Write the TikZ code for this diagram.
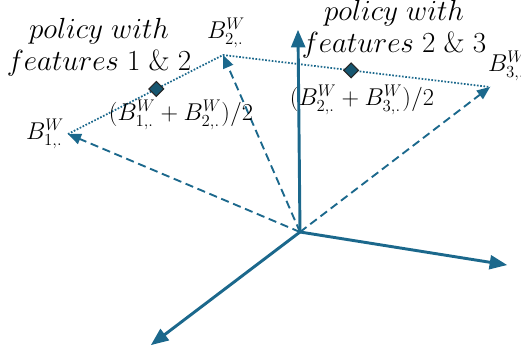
\documentclass[tikz,border=0pt]{standalone}
\usepackage{amsmath}
\usetikzlibrary{arrows,shapes.geometric,calc}
\definecolor{axisblue}{RGB}{27,104,140}
\definecolor{dmdfill}{RGB}{22,86,112}

\begin{document}
\begin{tikzpicture}[x=0.03cm,y=-0.03cm,>=triangle 45,
  axis/.style={->,line width=2.5pt,axisblue},
  vec/.style={->,line width=1.6pt,axisblue,dash pattern=on 7pt off 4pt},
  link/.style={line width=1.5pt,axisblue,dash pattern=on 1.4pt off 1.4pt},
  mid/.style={diamond,draw=black!85,fill=dmdfill,line width=0.9pt,inner sep=0pt,minimum size=13pt},
  lbl/.style={font=\fontsize{21}{26}\selectfont,inner sep=0pt},
  note/.style={font=\fontsize{23}{27}\selectfont,inner sep=0pt,align=center}]
\useasboundingbox (0,0) rectangle (521,352);
% axes
\coordinate (O) at (300,232);
\coordinate (up) at (298,30);
\coordinate (right) at (507,265);
\coordinate (down) at (151,345);
\draw[axis] (O) -- (up);
\draw[axis] (O) -- (right);
\draw[axis] (O) -- (down);
% policy vectors
\coordinate (B1) at (68,134);
\coordinate (B2) at (223,55);
\coordinate (B3) at (490,87);
\draw[vec] (O) -- (B1);
\draw[vec] (O) -- (B2);
\draw[vec] (O) -- (B3);
\draw[link] (B1) -- (B2) -- (B3);
\node[mid] (m12) at ($(B1)!0.57!(B2)$) {};
\node[mid] (m23) at ($(B2)!0.48!(B3)$) {};
% labels
\node[lbl] (b1) at (45,134) {$B^W_{1,.}$};
\node[lbl] (b2) at (226,33) {$B^W_{2,.}$};
\node[lbl] (b3) at (507,66) {$B^W_{3,.}$};
\node[lbl] (a12) at (181,115) {$(B^W_{1,.}+B^W_{2,.})/2$};
\node[lbl] (a23) at (362,100) {$(B^W_{2,.}+B^W_{3,.})/2$};
\node[note] (p12) at (99,47) {$policy\ with$\\$features\ 1\ \&\ 2$};
\node[note] (p23) at (394,29) {$policy\ with$\\$features\ 2\ \&\ 3$};
\end{tikzpicture}
\end{document}
